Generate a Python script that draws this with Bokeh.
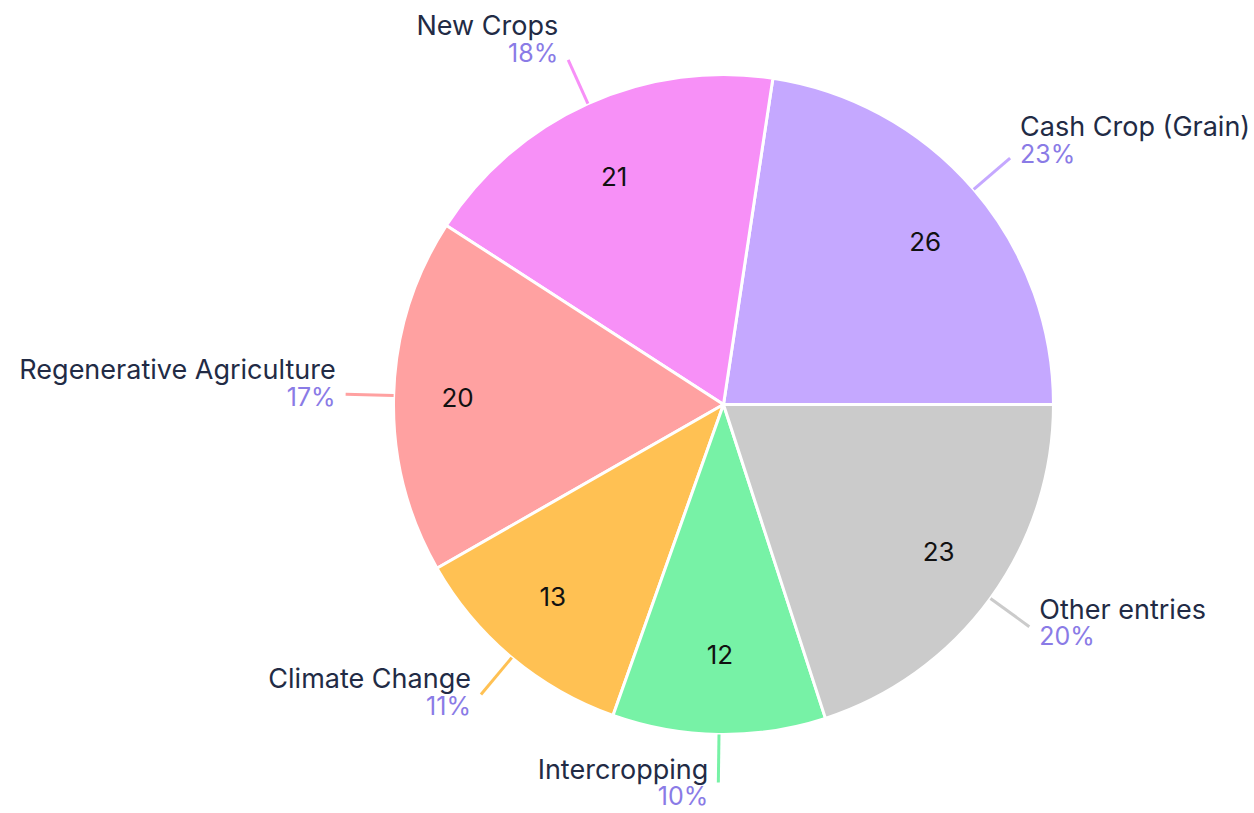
import math
from bokeh.plotting import figure
from bokeh.models import ColumnDataSource, Range1d
from bokeh.core.properties import value
from bokeh.embed import file_html
from bokeh.resources import INLINE

categories = ["Cash Crop (Grain)", "New Crops", "Regenerative Agriculture",
              "Climate Change", "Intercropping", "Other entries"]
counts = [26, 21, 20, 13, 12, 23]
colors = ["#c5a8ff", "#f790f7", "#ffa1a1", "#ffc153", "#77f2a6", "#cbcbcb"]

W, H = 1254, 813
cx, cy, R = 723, 409, 330
total = sum(counts)

starts, ends, mids = [], [], []
acc = 0.0
for c in counts:
    a0 = acc / total * 2 * math.pi
    acc += c
    a1 = acc / total * 2 * math.pi
    starts.append(a0)
    ends.append(a1)
    mids.append((a0 + a1) / 2)

pcts = [f"{round(c / total * 100)}%" for c in counts]

src = ColumnDataSource(dict(start=starts, end=ends, color=colors))

# leader lines and label positions
lx0, ly0, lx1, ly1 = [], [], [], []
tx, ty_lab, ty_pct, align = [], [], [], []
vx, vy = [], []
for m in mids:
    cs, sn = math.cos(m), math.sin(m)
    x0, y0 = cx + R * cs, cy + R * sn
    x1, y1 = cx + (R + 48) * cs, cy + (R + 48) * sn
    lx0.append(x0); ly0.append(y0); lx1.append(x1); ly1.append(y1)
    right = cs >= 0
    align.append("left" if right else "right")
    tx.append(x1 + (10 if right else -10))
    yc = y1 + 24 + 11 * sn
    ty_lab.append(yc)
    ty_pct.append(yc - 27)
    vx.append(cx + 266 * cs)
    vy.append(cy + 250 * sn)

p = figure(width=W, height=H, output_backend="svg", toolbar_location=None,
           x_range=Range1d(0, W), y_range=Range1d(0, H), min_border=0)
p.axis.visible = False
p.grid.visible = False
p.outline_line_color = None
p.background_fill_color = "white"
p.border_fill_color = "white"

p.wedge(x=cx, y=cy, radius=R, start_angle="start", end_angle="end",
        fill_color="color", line_color="white", line_width=3, source=src)

lsrc = ColumnDataSource(dict(x0=lx0, y0=ly0, x1=lx1, y1=ly1, color=colors))
p.segment(x0="x0", y0="y0", x1="x1", y1="y1", line_color="color",
          line_width=3, source=lsrc)

tsrc = ColumnDataSource(dict(x=tx, yl=ty_lab, yp=ty_pct, lab=categories,
                             pct=pcts, align=align))
p.text(x="x", y="yl", text="lab", text_align="align", text_baseline="middle",
       text_font=value("Inter"), text_font_size="27px", text_color="#222b45",
       source=tsrc)
p.text(x="x", y="yp", text="pct", text_align="align", text_baseline="middle",
       text_font=value("Inter"), text_font_size="25px", text_color="#8a7be6",
       source=tsrc)

vsrc = ColumnDataSource(dict(x=vx, y=vy, t=[str(c) for c in counts]))
p.text(x="x", y="y", text="t", text_align="center", text_baseline="middle",
       text_font=value("Inter"), text_font_size="26px", text_color="#111111",
       source=vsrc)

open("out.html", "w").write(file_html(p, INLINE))
